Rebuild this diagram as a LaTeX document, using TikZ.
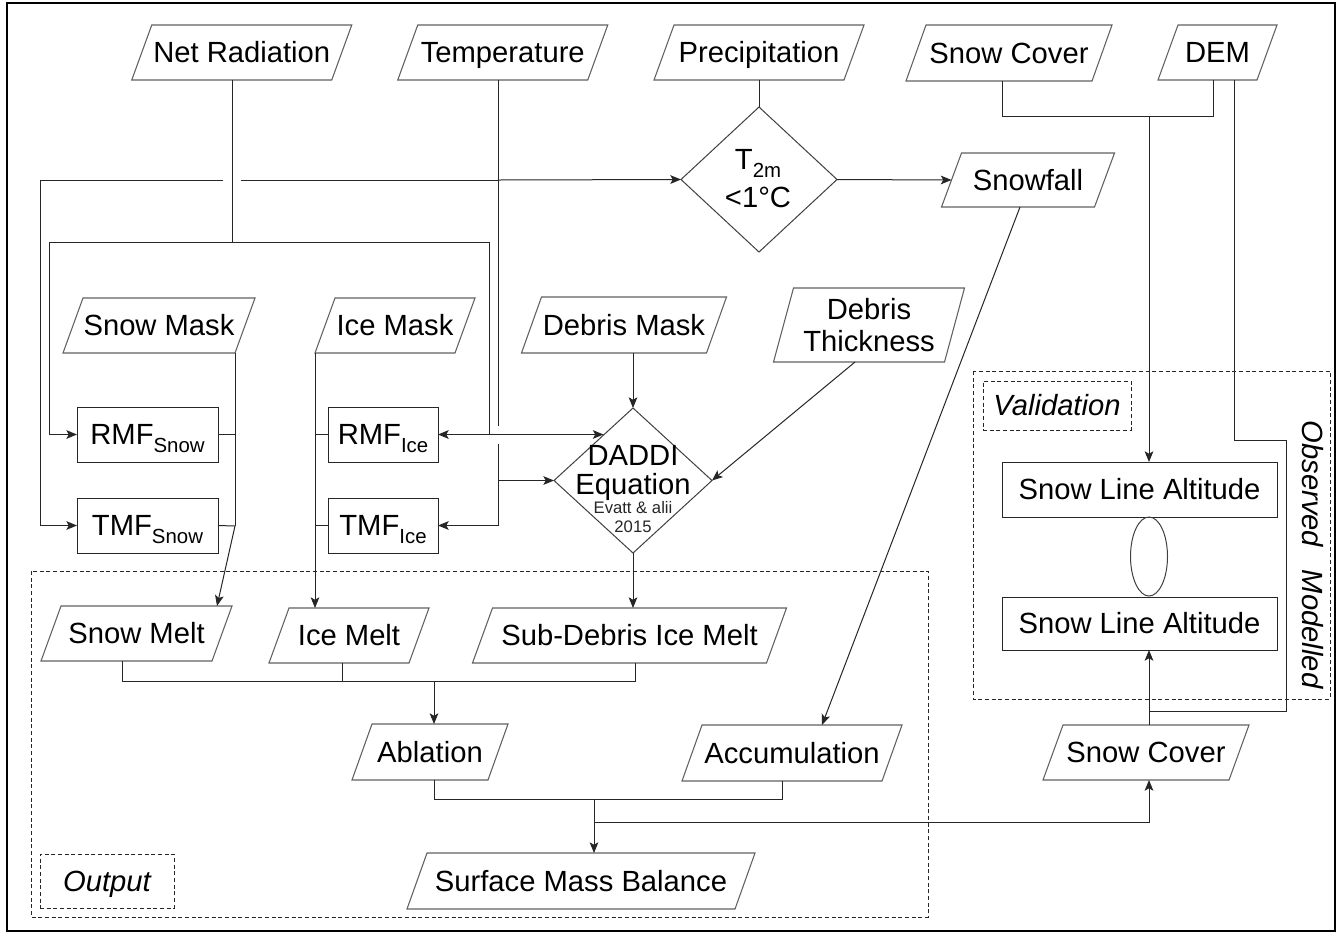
\documentclass[tikz,border=0pt]{standalone}
\usepackage{fontspec}
\setmainfont{Liberation Sans}
\usetikzlibrary{calc,shapes.geometric,arrows.meta}
\newcommand\mainsz{\fontsize{21.9}{24}\selectfont}
\newcommand\sbs[1]{\raisebox{-6pt}{\fontsize{15.3}{16}\selectfont #1}}
\tikzset{
  lbl/.style={font=\mainsz, inner sep=0pt, outer sep=0pt, text=black},
  capht/.style={text height=15.7pt, text depth=0pt},
  pgline/.style={draw=black!62, line width=0.8pt, line join=miter},
  conn/.style={draw=black!85, line width=0.75pt},
  rbox/.style={lbl, capht, draw=black!85, line width=0.7pt},
  dbox/.style={draw=black!85, line width=0.6pt, dash pattern=on 3pt off 2pt},
}
\newcommand\pgram[7][capht]{%
  \node[lbl,#1,minimum width=#5*0.75pt,minimum height=#6*0.75pt] (#2) at (#3,#4) {#7};
  \draw[pgline] ($(#2.north west)+(10,0)$) -- ($(#2.north east)+(10,0)$) -- ($(#2.south east)+(-10,0)$) -- ($(#2.south west)+(-10,0)$) -- cycle;
}
\begin{document}
\begin{tikzpicture}[x=0.75pt,y=-0.75pt,>={Stealth[length=8pt,width=6.5pt,inset=1.8pt]}]
\useasboundingbox (0,0) rectangle (1338,933);
\fill[white] (0,0) rectangle (1338,933);
\draw[line width=2.2pt, black] (7,3) rectangle (1335,931);

% dashed groups
\draw[dbox] (31,571) rectangle (928,917);
\node[lbl, capht, dbox, minimum width=100.5pt, minimum height=40.5pt, font=\mainsz\itshape] (outlbl) at (107,881) {Output};
\draw[dbox] (973,371) rectangle (1330,699);
\node[lbl, capht, dbox, minimum width=111pt, minimum height=36.75pt, font=\mainsz\itshape] (vallbl) at (1057,405.5) {Validation};
\node[lbl, rotate=-90, font=\mainsz\itshape] (obsmod) at (1312.5,554.5) {Observed\hspace{17pt}Modelled};

% parallelograms
\pgram{netrad}{241.75}{52.5}{200}{55}{Net Radiation}
\pgram{temp}{502.75}{52.5}{190}{55}{Temperature}
\pgram{precip}{759}{52.5}{190}{55}{Precipitation}
\pgram{snowcovA}{1009}{53}{186}{56}{Snow Cover}
\pgram{dem}{1217.5}{52.5}{99}{55}{DEM}
\pgram{snowfall}{1028}{180}{153}{54}{Snowfall}
\pgram{snowmask}{159}{325.5}{172}{55}{Snow Mask}
\pgram{icemask}{395}{325.5}{140}{55}{Ice Mask}
\pgram{debmask}{624}{325}{185}{56}{Debris Mask}
\pgram[align=center]{debthick}{869}{325}{171}{74}{Debris\\Thickness}
\pgram{snowmelt}{136.5}{633.5}{171}{55}{Snow Melt}
\pgram{icemelt}{349}{635.5}{140}{55}{Ice Melt}
\pgram{subdeb}{629.5}{635.5}{294}{55}{Sub-Debris Ice Melt}
\pgram{ablation}{430}{752}{136}{56}{Ablation}
\pgram{accum}{792}{753}{200}{56}{Accumulation}
\pgram{smbal}{581}{881}{328}{56}{Surface Mass Balance}
\pgram{snowcovB}{1146}{752.5}{186}{55}{Snow Cover}

% boxes
\node[rbox,minimum width=105.75pt,minimum height=41.25pt] (rmfsnow) at (147.5,434.5) {RMF\sbs{Snow}};
\node[rbox,minimum width=105.75pt,minimum height=41.25pt] (tmfsnow) at (147.5,525.5) {TMF\sbs{Snow}};
\node[rbox,minimum width=82.5pt,minimum height=41.25pt] (rmfice) at (383,434.5) {RMF\sbs{Ice}};
\node[rbox,minimum width=82.5pt,minimum height=41.25pt] (tmfice) at (383,525.5) {TMF\sbs{Ice}};
\node[rbox,minimum width=206.25pt,minimum height=41.25pt] (sla1) at (1139.5,489.5) {Snow Line Altitude};
\node[rbox,minimum width=206.25pt,minimum height=39.75pt] (sla2) at (1139.5,623.5) {Snow Line Altitude};
\node[ellipse, draw=black!75, line width=0.75pt, minimum width=27.75pt, minimum height=59.25pt, inner sep=0pt, outer sep=0pt] (valell) at (1149,556.5) {};

% diamonds
\node[diamond, draw=black!75, line width=0.75pt, minimum width=117pt, minimum height=108.75pt, inner sep=0pt, outer sep=0pt] (t2m) at (759,179.5) {};
\node[lbl, align=center] (t2mtxt) at (758,179) {T\sbs{2m}\\[4.5pt]<1°C};
\node[diamond, draw=black!75, line width=0.75pt, minimum width=118.5pt, minimum height=108.75pt, inner sep=0pt, outer sep=0pt] (daddi) at (633,480.5) {};
\node[lbl, align=center, font=\fontsize{21.9}{20.25}\selectfont] (daddit) at (633,473) {DADDI\\[1pt]Equation};
\node[lbl, align=center, text=black!85, font=\fontsize{12.5}{14.25}\selectfont] (daddiref) at (633,517) {Evatt \& alii\\2015};

% coordinates
\coordinate (nrj) at (232,242);
\coordinate (nrL) at (49,242);
\coordinate (nrR) at (489,242);
\coordinate (tT) at (498,180);
\coordinate (tL) at (40,180);
\coordinate (smx) at (235,526);
\coordinate (imx) at (315,353);
\coordinate (smj) at (122,681);
\coordinate (imj) at (342,681);
\coordinate (sdj) at (635,681);
\coordinate (abj) at (434,681);
\coordinate (mbj) at (594,799);
\coordinate (acx) at (782,799);
\coordinate (scj) at (594,822);
\coordinate (scx) at (1149,822);
\coordinate (sc1) at (1002,116);
\coordinate (dm1) at (1213,116);
\coordinate (vj) at (1149,116);
\coordinate (d1) at (1234,440);
\coordinate (d2) at (1286,711);
\coordinate (d3) at (1149,711);

% Net radiation
\draw[conn] (netrad.south -| nrj) -- (nrj);
\draw[conn] (nrL) -- (nrR);
\draw[conn,->] (nrL) |- (rmfsnow.west);
\draw[conn] (nrR) -- (nrR |- rmfice.east);
\draw[conn,<->] (rmfice.east) -- (rmfice.east -| daddi.123);

% Temperature
\draw[conn] (temp.south -| tT) -- ($(rmfice.east -| tT)+(0,-9)$);
\draw[conn,->] ($(rmfice.east -| tT)+(0,9)$) |- (tmfice.east);
\draw[conn,->] (daddi.west -| tT) -- (daddi.west);
\draw[conn,->] (tT) -- (t2m.west);
\draw[conn] (tT) -- ($(nrj |- tT)+(9,0)$);
\draw[conn,->] ($(nrj |- tT)+(-9,0)$) -- (tL) |- (tmfsnow.west);

% Precipitation / snowfall
\draw[conn] (precip.south -| t2m.north) -- (t2m.north);
\draw[conn,->] (t2m.east) -- (snowfall.west);
\draw[conn,->] ($(snowfall.south)+(-8,0)$) -- ($(accum.north)+(30,0)$);

% masks
\draw[conn] ($(snowmask.south east)+(-10,0)$) -- (smx);
\draw[conn] (rmfsnow.east) -- (rmfsnow.east -| smx);
\draw[conn] (tmfsnow.east) -- (smx);
\draw[conn,->] (smx) -- ($(snowmelt.north)+(80.5,0)$);
\draw[conn,->] (imx) -- (icemelt.north -| imx);
\draw[conn] (rmfice.west) -- (rmfice.west -| imx);
\draw[conn] (tmfice.west) -- (tmfice.west -| imx);

% debris
\draw[conn,->] (debmask.south -| daddi.north) -- (daddi.north);
\draw[conn,->] ($(debthick.south)+(-14,0)$) -- (daddi.east);
\draw[conn,->] (daddi.south) -- (daddi.south |- subdeb.north);

% output merging
\draw[conn] (snowmelt.south -| smj) -- (smj) -- (sdj) -- (subdeb.south -| sdj);
\draw[conn] (icemelt.south -| imj) -- (imj);
\draw[conn,->] (abj) -- (ablation.north -| abj);
\draw[conn] (ablation.south -| abj) |- (acx) -- (accum.south -| acx);
\draw[conn,->] (mbj) -- (smbal.north -| mbj);
\draw[conn,->] (scj) -- (scx) -- (snowcovB.south -| scx);

% validation side
\draw[conn] (snowcovA.south -| sc1) -- (sc1) -- (dm1) -- (dem.south -| dm1);
\draw[conn,->] (vj) -- (sla1.north -| vj);
\draw[conn] (dem.south -| d1) -- (d1) -| (d2) -- (d3);
\draw[conn,->] (snowcovB.north -| d3) -- (sla2.south -| d3);
\end{tikzpicture}
\end{document}
